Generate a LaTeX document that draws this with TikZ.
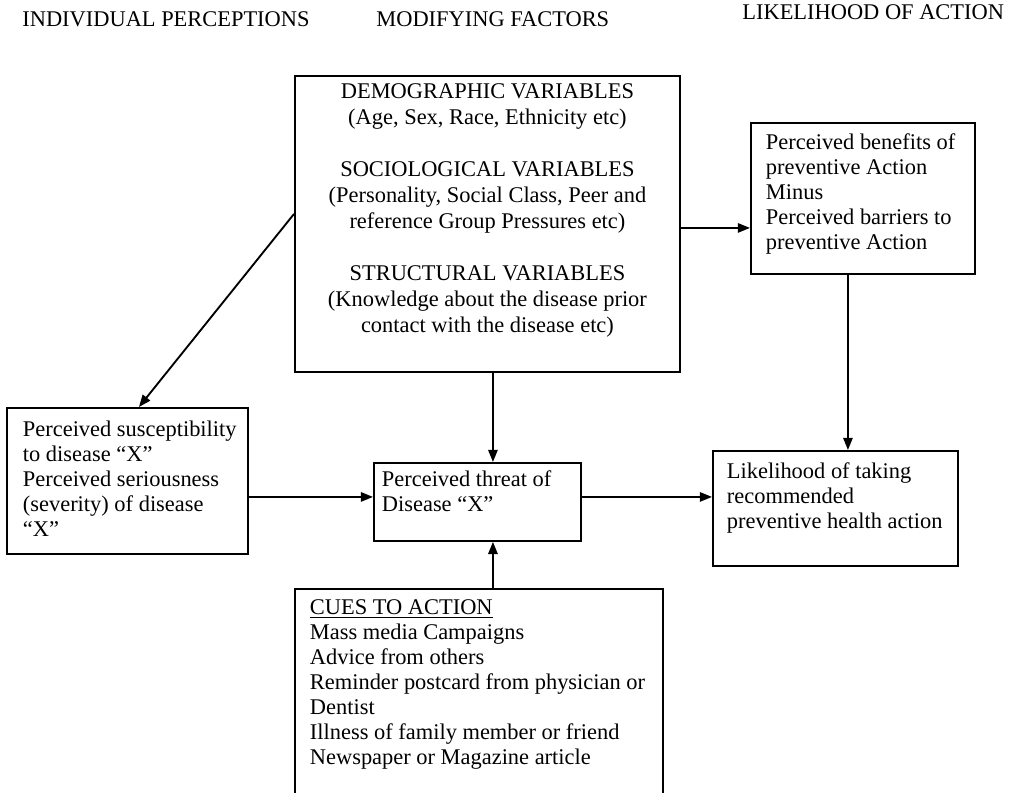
\documentclass[tikz,border=0pt]{standalone}
\usepackage{fontspec}
\setmainfont{Liberation Serif}
\usetikzlibrary{arrows.meta}

\newlength\px
\setlength\px{0.535pt}
% width, height, indent, first baseline, lines
\newcommand{\boxtext}[5]{\parbox[t][#2\px][t]{#1\px}{\raggedright\leftskip=#3\px\relax\baselineskip=25\px\relax\rule{0pt}{#4\px}#5}}

\begin{document}
\begin{tikzpicture}[
    x=0.535pt, y=-0.535pt,
    font=\fontsize{12pt}{13.6pt}\selectfont,
    box/.style={draw, line width=1pt, anchor=north west, inner sep=0pt},
    head/.style={anchor=base west, inner sep=0pt},
    link/.style={-{Triangle[length=6.5pt, width=5pt]}, line width=1pt}
]
\useasboundingbox (0,0) rectangle (1010,792);

\node[head] (indiv) at (22,27) {INDIVIDUAL PERCEPTIONS};
\node[head] (modif) at (376,27) {MODIFYING FACTORS};
\node[head] (likeli) at (742,20) {LIKELIHOOD OF ACTION};

\node[box] (mod) at (294,75) {\parbox[t][296\px][t]{385\px}{\centering\baselineskip=26\px\relax\rule{0pt}{23\px}%
    DEMOGRAPHIC VARIABLES\\ (Age, Sex, Race, Ethnicity etc)\\[26\px]
    SOCIOLOGICAL VARIABLES\\ (Personality, Social Class, Peer and\\ reference Group Pressures etc)\\[26\px]
    STRUCTURAL VARIABLES\\ (Knowledge about the disease prior\\ contact with the disease etc)}};
\node[box] (sus) at (6,407) {\boxtext{241}{146}{16}{29}{Perceived susceptibility\\ to disease “X”\\ Perceived seriousness\\ (severity) of disease\\ “X”}};
\node[box] (thr) at (373,462) {\boxtext{207}{78}{8}{24}{Perceived threat of\\ Disease “X”}};
\node[box] (lik) at (712,450) {\boxtext{245}{115}{14}{28}{Likelihood of taking\\ recommended\\ preventive health action}};
\node[box] (ben) at (750,122) {\boxtext{224}{151}{15}{27}{Perceived benefits of\\ preventive Action\\ Minus\\ Perceived barriers to\\ preventive Action}};
\node[box] (cues) at (294,588) {\boxtext{368}{212}{15}{26}{\underline{CUES TO ACTION}\\ Mass media Campaigns\\ Advice from others\\ Reminder postcard from physician or\\ Dentist\\ Illness of family member or friend\\ Newspaper or Magazine article}};

\draw[link] ([yshift=10\px]mod.west) -- ([xshift=11.5\px]sus.north);
\draw[link] ([xshift=5.5\px]mod.south) -- ([xshift=5.5\px]mod.south |- thr.north);
\draw[link] ([yshift=-4\px]mod.east) -- ([yshift=-4\px]mod.east -| ben.west);
\draw[link] ([xshift=-15\px]ben.south) -- ([xshift=-15\px]ben.south |- lik.north);
\draw[link] ([yshift=-16\px]sus.east) -- ([yshift=-16\px]sus.east -| thr.west);
\draw[link] ([yshift=5\px]thr.east) -- ([yshift=5\px]thr.east -| lik.west);
\draw[link] ([xshift=14\px]cues.north) -- ([xshift=14\px]cues.north |- thr.south);

\end{tikzpicture}
\end{document}
